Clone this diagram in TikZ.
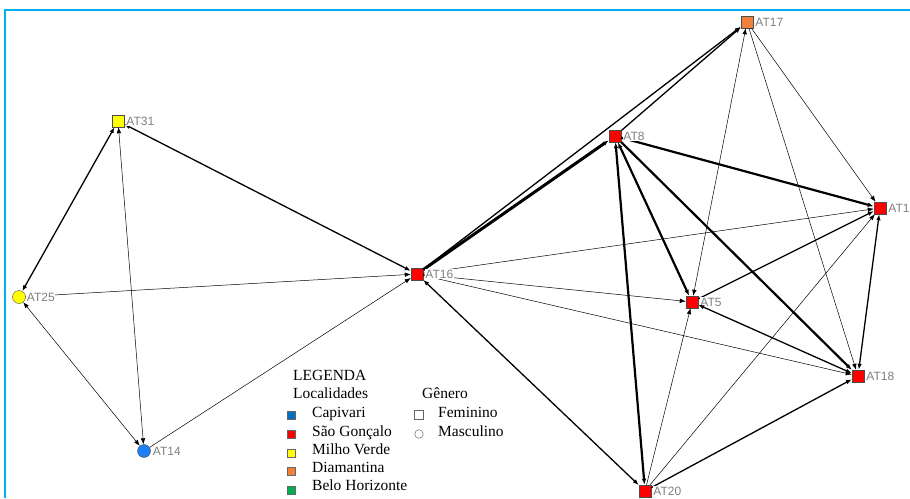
\documentclass[tikz,border=0pt]{standalone}
\usepackage{fontspec}
\setmainfont{Liberation Serif}
\newfontfamily\lblfont{Liberation Sans}
\usetikzlibrary{arrows.meta}
\definecolor{frameC}{RGB}{0,176,240}
\definecolor{redN}{RGB}{255,0,0}
\definecolor{yelN}{RGB}{255,255,0}
\definecolor{oraN}{RGB}{240,128,60}
\definecolor{bluN}{RGB}{30,128,240}
\definecolor{bluL}{RGB}{0,112,192}
\definecolor{greL}{RGB}{0,176,80}
\begin{document}
\begin{tikzpicture}[x=1pt,y=-1pt,
  sq/.style={draw=black!70, line width=0.4pt, rectangle, minimum size=12pt, inner sep=0pt},
  ci/.style={draw=black!70, line width=0.4pt, circle, minimum size=13pt, inner sep=0pt},
  lbl/.style={font=\lblfont\fontsize{12}{12}\selectfont, text=black!50, inner sep=0.5pt, fill=white, anchor=west},
  thinE/.style={line width=0.5pt},
  medE/.style={line width=1.3pt},
  thkE/.style={line width=2.2pt},
  vthkE/.style={line width=3pt},
  tip/.style={-{Latex[length=6pt,width=4.5pt]}},
  tips/.style={{Latex[length=6pt,width=4.5pt]}-{Latex[length=6pt,width=4.5pt]}},
  leg/.style={font=\fontsize{15.5}{15.5}\selectfont, anchor=base west, inner sep=0pt},
  lsq/.style={draw=black!60, line width=0.4pt, rectangle, minimum size=8pt, inner sep=0pt},
]
\useasboundingbox (0,0) rectangle (910,498);
% frame
\draw[frameC, line width=2pt] (5,498) -- (5,10) -- (910,10);

% nodes
\node[sq, fill=oraN] (t17) at (747,22) {};
\node[sq, fill=yelN] (t31) at (118,121) {};
\node[sq, fill=redN] (t8) at (615,136) {};
\node[sq, fill=redN] (t1) at (880,208) {};
\node[ci, fill=yelN] (t25) at (19,297) {};
\node[sq, fill=redN] (t16) at (417,274) {};
\node[sq, fill=redN] (t5) at (692,302) {};
\node[sq, fill=redN] (t18) at (858,376) {};
\node[ci, fill=bluN] (t14) at (144,451) {};
\node[sq, fill=redN] (t20) at (645,491) {};

% edges
\draw[medE,tips] (t31) -- (t25);
\draw[thinE,tips] (t31) -- (t14);
\draw[thinE,tips] (t25) -- (t14);
\draw[medE,tips] (t16) -- (t31);
\draw[thinE,tip] (t25) -- (t16);
\draw[thinE,tip] (t14) -- (t16);
\draw[medE,tips] (t16) -- (t20);
\draw[vthkE,tip] (t16) -- (t8);
\draw[medE,tip] (t16) -- (t17);
\draw[medE,tip] (t8) -- (t17);
\draw[thinE,tip] (t16) -- (t1);
\draw[thinE,tip] (t16) -- (t5);
\draw[thinE,tip] (t16) -- (t18);
\draw[thkE,tip] (t8) -- (t1);
\draw[thkE,tips] (t8) -- (t5);
\draw[thkE,tip] (t8) -- (t18);
\draw[thkE,tips] (t8) -- (t20);
\draw[thinE,tips] (t17) -- (t5);
\draw[thinE,tip] (t17) -- (t18);
\draw[thinE,tip] (t17) -- (t1);
\draw[medE,tip] (t5) -- (t1);
\draw[thinE,tip] (t20) -- (t5);
\draw[thinE,tip] (t20) -- (t1);
\draw[medE,tip] (t20) -- (t18);
\draw[medE,tips] (t18) -- (t1);

% node labels (on top of edges)
\node[lbl] (l17) at ([xshift=1.5pt]t17.east) {AT17};
\node[lbl] (l31) at ([xshift=1.5pt]t31.east) {AT31};
\node[lbl] (l8) at ([xshift=1.5pt]t8.east) {AT8};
\node[lbl] (l1) at ([xshift=1.5pt]t1.east) {AT1};
\node[lbl] (l25) at ([xshift=0.5pt]t25.east) {AT25};
\node[lbl] (l16) at ([xshift=1.5pt]t16.east) {AT16};
\node[lbl] (l5) at ([xshift=1.5pt]t5.east) {AT5};
\node[lbl] (l18) at ([xshift=1.5pt]t18.east) {AT18};
\node[lbl] (l14) at ([xshift=1.5pt]t14.east) {AT14};
\node[lbl] (l20) at ([xshift=1.5pt]t20.east) {AT20};

\draw[medE,tips] (t18) -- (t5);

% legend
\node[leg] (lg) at (293,380) {LEGENDA};
\node[leg] (lloc) at (293,398) {Localidades};
\node[leg] (lgen) at (422,398) {Gênero};
\node[lsq, fill=bluL] (m1) at (291,415) {};
\node[leg] (lc1) at (312,417) {Capivari};
\node[lsq, fill=redN] (m2) at (291,434) {};
\node[leg] (lc2) at (312,436) {São Gonçalo};
\node[lsq, fill=yelN] (m3) at (291,453) {};
\node[leg] (lc3) at (312,454) {Milho Verde};
\node[lsq, fill=oraN] (m4) at (291,471) {};
\node[leg] (lc4) at (312,472) {Diamantina};
\node[lsq, fill=greL] (m5) at (291,490) {};
\node[leg] (lc5) at (312,490) {Belo Horizonte};
\node[draw=black!60, line width=0.5pt, rectangle, minimum size=9pt, inner sep=0pt, fill=white] (mf) at (419,415) {};
\node[leg] (lf) at (438,417) {Feminino};
\node[draw=black!60, line width=0.5pt, circle, minimum size=8.5pt, inner sep=0pt] (mm) at (419,434) {};
\node[leg] (lm) at (438,436) {Masculino};
\end{tikzpicture}
\end{document}
